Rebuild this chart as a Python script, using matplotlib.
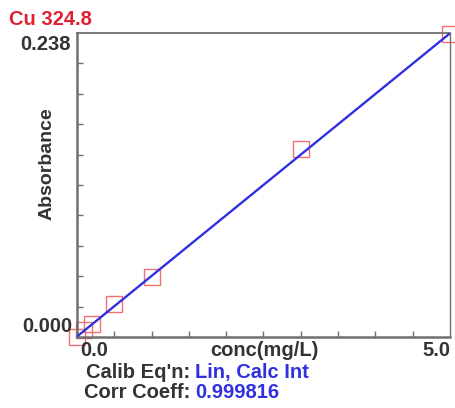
import numpy as np
import matplotlib
matplotlib.use("Agg")
import matplotlib.pyplot as plt

plt.rcParams['font.family'] = ['Liberation Sans', 'DejaVu Sans']

# calibration standards
conc = [0.0, 0.1, 0.2, 0.5, 1.0, 3.0, 5.0]
absorb = [0.0, 0.0052, 0.0105, 0.0255, 0.047, 0.147, 0.237]
slope = 0.0475
intercept = 0.0003
title = 'Cu 324.8'
calib_eq = 'Lin, Calc Int'
corr = '0.999816'

fs = 14.5
fw = 'bold'
txt = '#333333'
blue = '#3030e0'

fig = plt.figure(figsize=(4.55, 4.08), dpi=100)
ax = fig.add_axes([0.169, 0.174, 0.820, 0.745])

xfit = np.array([0.0, 5.0])
ax.plot(xfit, slope * xfit + intercept, color=blue, lw=1.7, zorder=3)
ax.plot(conc, absorb, 's', ms=11, mfc='none', mec='#f07070', mew=1.0,
        clip_on=False, zorder=2)

ax.set_xlim(0, 5.0)
ax.set_ylim(0, 0.238)
ax.set_xticks(np.arange(0.5, 5.0, 0.5))
ax.set_yticks(np.arange(0.0238, 0.238, 0.0238))
ax.tick_params(direction='in', length=4, width=1, color='#707070',
               labelbottom=False, labelleft=False)
for s in ax.spines.values():
    s.set_color('#707070')
ax.spines['left'].set_linewidth(1.8)
ax.spines['bottom'].set_linewidth(1.8)
ax.spines['top'].set_linewidth(1.3)
ax.spines['right'].set_linewidth(1.0)

# tick labels and axis titles placed as in the instrument printout
fig.text(0.156, 0.890, '0.238', ha='right', va='center', fontsize=fs, fontweight=fw, color=txt)
fig.text(0.158, 0.199, '0.000', ha='right', va='center', fontsize=fs, fontweight=fw, color=txt)
fig.text(0.176, 0.140, '0.0', ha='left', va='center', fontsize=fs, fontweight=fw, color=txt)
fig.text(0.989, 0.140, '5.0', ha='right', va='center', fontsize=fs, fontweight=fw, color=txt)
fig.text(0.582, 0.142, 'conc(mg/L)', ha='center', va='center', fontsize=fs, fontweight=fw, color=txt)
fig.text(0.103, 0.600, 'Absorbance', ha='center', va='center', rotation=90,
         fontsize=fs - 0.5, fontweight=fw, color=txt)

fig.text(0.020, 0.953, title, color='#e02030', fontsize=fs, fontweight=fw, va='center')
fig.text(0.418, 0.088, "Calib Eq'n:", color=txt, fontsize=fs, fontweight=fw, ha='right', va='center')
fig.text(0.429, 0.088, calib_eq, color=blue, fontsize=fs, fontweight=fw, ha='left', va='center')
fig.text(0.418, 0.037, 'Corr Coeff:', color=txt, fontsize=fs, fontweight=fw, ha='right', va='center')
fig.text(0.429, 0.037, corr, color=blue, fontsize=fs, fontweight=fw, ha='left', va='center')

fig.savefig('out.png', dpi=100)
